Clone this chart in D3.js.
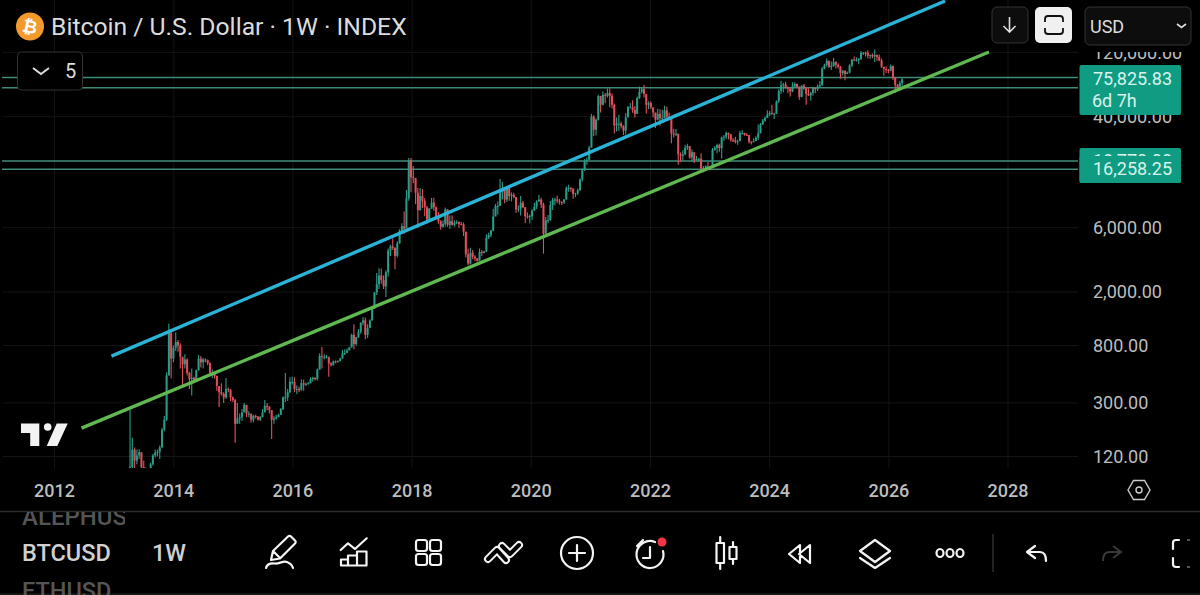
<!DOCTYPE html>
<html><head><meta charset="utf-8">
<script src="https://cdn.jsdelivr.net/npm/d3@7/dist/d3.min.js"></script>
<style>html,body{margin:0;padding:0;background:#000;overflow:hidden}svg{display:block}text{font-family:Roboto,sans-serif}</style>
</head><body><svg id="c" width="1200" height="595"></svg>
<script>
const firstOpen = 93;
const firstCandle = "2013-04-01";
const closes = [
100,135,112,122,129,100,90,92,95,105,122,128,130,
140,190,225,480,1000,640,770,850,800,660,580,630,500,
450,460,440,525,640,600,630,620,590,500,500,475,400,
360,350,330,380,375,330,315,210,230,235,255,290,250,
250,225,240,237,225,235,255,285,280,265,225,230,235,
245,270,330,330,360,430,430,380,380,375,420,410,415,
420,450,460,450,530,670,660,660,660,590,575,610,605,
615,640,700,705,735,775,960,820,920,1010,1180,1230,960,
1080,1230,1500,1980,2280,2650,2450,2200,2800,4050,4350,4250,3700,
4600,5700,6150,5900,9900,19000,14200,14000,10900,8100,10300,9500,8500,
6900,8300,9200,8500,7300,6700,6100,6400,8200,6300,6700,6300,6500,
6600,6400,6350,5600,3800,3250,3900,3650,3550,3400,3950,3900,4000,
5050,5300,5700,7250,8700,8700,11000,11800,9700,11800,10300,10500,10100,
8200,8300,9200,8500,7300,7200,7300,8000,8600,9350,9700,8900,5400,
6800,6850,8800,9700,9700,9500,9300,9250,9700,11800,11800,11700,10700,
10800,11400,13700,16300,18700,19150,23500,40000,32000,38000,57000,49000,58000,
57000,60000,57000,49000,34500,35500,35500,34000,31500,39500,47000,47000,45000,
42000,55000,61000,64000,59000,49000,50500,47000,43000,38000,42000,39000,39000,
44500,40000,39500,30000,29500,29900,21000,20500,21000,23400,24100,19900,21800,
19000,19400,19500,16500,16400,17100,16800,16800,22700,23400,24600,23400,28000,
28400,30300,29500,26900,26700,25900,26300,30300,30300,29300,29200,26100,25800,
26300,27900,30000,35000,37400,39000,41400,42600,41700,42000,52100,62000,68500,
69500,65700,64500,61500,67000,70000,66700,56000,68000,65000,59000,57500,60000,
65600,64000,67000,68500,91000,97000,104000,94000,95000,102000,97000,94000,84000,
87500,83000,85000,96000,106000,105500,105500,108000,119000,119500,119000,113500,115000,
112000,115000,111000,104500,94000,90500,89000,87500,95000,78000,68800,65000,71000,
75825.83];
const highs = [
266,165,140,135,136,129,112,100,98,108,125,135,135,
145,195,240,505,1163,1000,800,1000,880,830,640,690,640,
510,540,470,530,680,670,650,640,630,600,530,500,480,
400,420,360,460,390,380,335,320,300,250,270,300,290,
260,240,245,245,240,240,270,315,300,285,265,240,245,
250,275,335,500,380,465,470,465,405,395,450,445,425,
430,465,470,465,540,700,780,690,680,630,600,620,620,
620,650,740,750,760,785,980,1150,930,1060,1190,1300,1290,
1150,1250,1560,2000,2760,3000,2980,2650,2900,4200,4480,5000,4300,
4750,5850,6470,7900,11400,19700,19700,17200,14000,11800,11800,11600,9900,
8700,8400,9950,10000,8600,7800,6800,6800,8450,8200,7400,7400,6800,
6800,6700,6600,6550,5600,4200,4250,4100,3750,3550,4200,4100,4050,
5350,5500,5800,8300,9000,9400,13800,13100,11100,12300,12300,10950,10900,
10100,8800,10300,9500,8500,7800,7500,8200,9200,9600,10500,10000,9200,
7200,7450,9450,10000,10000,10400,9800,9400,9800,12100,12500,12050,11700,
10900,11700,13900,16500,19400,19900,24300,42000,41000,38800,58300,57000,61700,
60000,64800,64800,59500,50000,39400,41300,36600,34500,42600,48000,50500,52900,
48000,56500,67000,66000,69000,59000,52000,52000,44500,39000,45800,45400,45000,
48200,47500,43000,40000,32600,32400,29500,21700,22500,24700,25200,24300,22800,
20200,20400,19700,21400,17200,17400,18400,17000,23400,24200,25200,25200,28500,
29200,31000,30500,29800,27700,28400,27000,31400,31800,30300,30200,28000,26300,
27500,28600,35000,35900,38400,40200,44700,44000,49000,42900,52800,64000,73800,
71500,72700,67000,65000,71900,71900,70200,67000,68500,70000,65000,65000,61300,
66500,65600,69500,73600,93500,99000,108000,104000,102700,109500,102500,99500,95000,
89000,88500,86500,97800,107000,112000,110500,108800,123000,121000,122000,124500,116000,
118000,126000,116000,116000,107500,93500,94500,90500,97500,96000,79000,70000,74000,
77000];
const lows = [
60,70,85,105,115,95,85,65,85,92,103,118,120,
115,140,185,220,480,455,600,730,720,540,400,540,480,
380,340,420,430,520,550,540,600,570,490,460,455,370,
280,340,300,320,360,310,305,152,210,210,220,260,235,
235,215,215,230,222,220,235,260,265,250,162,210,225,
235,245,265,305,310,355,410,360,350,360,370,370,400,
410,420,430,440,440,530,540,630,640,470,560,565,590,
595,610,640,680,720,745,775,750,800,910,980,1130,890,
910,1120,1220,1500,1900,2100,2300,2100,1830,2600,3700,4100,2950,
3600,4550,5400,5400,7800,9500,11000,12800,9000,6000,8000,8400,7300,
6400,6600,8300,8000,7050,6400,5800,6000,6100,6100,5900,6200,6100,
6350,6000,6250,5200,3600,3150,3200,3500,3400,3350,3550,3700,3850,
3950,4950,5100,5650,7500,7500,8900,9700,9100,9300,9500,9400,9900,
7700,7850,7400,8400,6500,7000,6450,6850,8000,8250,9500,8400,3850,
5700,6500,6750,8100,8800,9100,8900,8850,9000,9700,11100,11100,9850,
10100,10500,11250,13200,15800,17600,19000,26500,28800,29000,37500,43000,48500,
50400,55500,47000,46000,30000,31000,31500,32700,29300,29500,42800,46500,42800,
39500,42000,54000,59500,55600,42000,45500,45700,39600,32900,37500,34300,37500,
40500,39000,38200,25400,28000,28800,17600,18600,18900,20700,22600,19500,18500,
18100,18900,18600,15600,15500,16000,16300,16300,17300,22300,21400,22000,19600,
26500,27200,27100,26000,25900,25300,24800,26400,29500,28900,28700,25300,24900,
26000,26500,26800,33400,34800,36700,40500,40500,41500,38500,42200,50600,59000,
60800,64500,59600,56500,60700,66500,65000,53500,55700,63500,49000,57000,52500,
57500,59800,62000,66800,68000,90000,94000,92000,89000,94000,91000,91200,76600,
81000,74500,83000,83900,93500,103000,102500,98200,105500,114700,112000,108700,107300,
108600,102000,103500,103000,92000,80600,84500,84000,87000,75000,60000,62500,64000,
68000];
const yearTicks = [2012,2014,2016,2018,2020,2022,2024,2026,2028];
const priceTicks = [120,300,800,2000,6000,40000,120000];
const priceTickLabels = ["120.00","300.00","800.00","2,000.00","6,000.00","40,000.00","120,000.00"];
const levelLines = [78000,65500,18770,16258.25];
const blueYears = [2012.956,2026.943], bluePrices = [668,288800];
const greenYears = [2012.453,2027.68], greenPrices = [195,120800];

const svg = d3.select("#c");
const defs = svg.append("defs");
const clipR = (id,x,y,w,h)=>defs.append("clipPath").attr("id",id).append("rect").attr("x",x).attr("y",y).attr("width",w).attr("height",h);
clipR("plot",0,0,1078,468);
clipR("ax",1080,52,120,460);
clipR("ale",0,512,125,30);
defs.append("filter").attr("id","soft").attr("x","-2%").attr("y","-2%").attr("width","104%").attr("height","104%").append("feGaussianBlur").attr("stdDeviation",0.4);

const x = d3.scaleUtc().domain([new Date(Date.UTC(2012,0,1)),new Date(Date.UTC(2028,0,1))]).range([54.5,1008]);
const y = d3.scaleLog().domain([120,120000]).range([456.5,52.4]);
const yd = v=>{const f=Math.floor(v);return new Date(Date.UTC(f,0,1)+(v-f)*365.25*864e5)};

// grid
const grid = svg.append("g").attr("stroke","#141414").attr("stroke-width",1);
grid.selectAll("line.v").data(yearTicks).join("line").attr("x1",d=>x(new Date(Date.UTC(d,0,1)))).attr("x2",d=>x(new Date(Date.UTC(d,0,1)))).attr("y1",0).attr("y2",468);
grid.selectAll("line.h").data(priceTicks.concat([18770])).join("line").attr("x1",3).attr("x2",1078).attr("y1",d=>y(d)).attr("y2",d=>y(d));

const plot = svg.append("g").attr("clip-path","url(#plot)");
// level lines
plot.selectAll("line.lvl").data(levelLines).join("line").attr("x1",2).attr("x2",1078).attr("y1",d=>y(d)).attr("y2",d=>y(d)).attr("stroke","#3f8a78").attr("stroke-width",1.5);

// candles
const start = new Date(firstCandle+"T00:00:00Z");
const candles = closes.map((c,i)=>({t:d3.utcDay.offset(start,i*14+7),o:i?closes[i-1]:firstOpen,c,h:highs[i],l:lows[i]}));
const UP="#2a9d88",DN="#e2505c";
const cg = plot.append("g").attr("filter","url(#soft)");
cg.selectAll("line").data(candles).join("line").attr("x1",d=>x(d.t)).attr("x2",d=>x(d.t)).attr("y1",d=>y(d.h)).attr("y2",d=>y(d.l)).attr("stroke",d=>d.c>=d.o?UP:DN).attr("stroke-width",1.1);
cg.selectAll("rect").data(candles).join("rect").attr("x",d=>x(d.t)-1).attr("width",2).attr("y",d=>y(Math.max(d.o,d.c))).attr("height",d=>Math.max(1,Math.abs(y(d.o)-y(d.c)))).attr("fill",d=>d.c>=d.o?UP:DN);

// trend lines
const trend = d3.line().x(d=>x(yd(d[0]))).y(d=>y(d[1]));
plot.append("path").attr("d",trend(d3.zip(greenYears,greenPrices))).attr("stroke","#5fb850").attr("stroke-width",3.4).attr("fill","none");
plot.append("path").attr("d",trend(d3.zip(blueYears,bluePrices))).attr("stroke","#2ab3d6").attr("stroke-width",3.4).attr("fill","none");

// price axis labels
svg.append("g").attr("clip-path","url(#ax)").selectAll("text").data(priceTicks).join("text")
  .attr("x",1093).attr("y",d=>y(d)+6.3).attr("font-size",18).attr("fill","#bdbdbd").text((d,i)=>priceTickLabels[i]);

// last price labels
const BOX="#0f9c83", TXT="#d8f3ec";
svg.append("rect").attr("x",1079.5).attr("y",65).attr("width",101.5).attr("height",50).attr("rx",2).attr("fill",BOX);
svg.append("text").attr("x",1093).attr("y",85).attr("font-size",18).attr("fill",TXT).text("75,825.83");
svg.append("text").attr("x",1092).attr("y",107).attr("font-size",18).attr("fill",TXT).text("6d 7h");
svg.append("rect").attr("x",1079.5).attr("y",148).attr("width",101.5).attr("height",35).attr("rx",2).attr("fill",BOX);
svg.append("text").attr("x",1093).attr("y",167).attr("font-size",18).attr("fill",TXT).text("18,770.00");
svg.append("rect").attr("x",1079.5).attr("y",156).attr("width",101.5).attr("height",27).attr("rx",2).attr("fill",BOX);
svg.append("text").attr("x",1093).attr("y",174.5).attr("font-size",18).attr("fill",TXT).text("16,258.25");

// x axis
svg.append("g").selectAll("text").data(yearTicks).join("text").attr("x",d=>x(new Date(Date.UTC(d,0,1)))).attr("y",496.5).attr("text-anchor","middle")
  .attr("font-size",18).attr("font-weight",500).attr("fill","#bdbdbd").text(d=>d);

// header
svg.append("circle").attr("cx",30).attr("cy",26.5).attr("r",14).attr("fill","#f39a2c");
svg.append("text").attr("x",30).attr("y",33).attr("text-anchor","middle").attr("font-size",18).attr("font-weight",700).attr("fill","#fff").attr("transform","rotate(12 30 26.5)").text("₿");
svg.append("text").attr("x",51).attr("y",34.5).attr("font-size",24.7).attr("fill","#dcdcdc").text("Bitcoin / U.S. Dollar · 1W · INDEX");

// collapse box
svg.append("rect").attr("x",17.5).attr("y",52).attr("width",65).attr("height",38).attr("rx",4).attr("fill","#000").attr("stroke","#333");
svg.append("path").attr("d","M33 68l8 6 8-6").attr("fill","none").attr("stroke","#ddd").attr("stroke-width",2);
svg.append("text").attr("x",65).attr("y",78).attr("font-size",20).attr("fill","#ddd").text("5");

// top buttons
const btn=(x0,y0,w,h,fill,stroke)=>svg.append("rect").attr("x",x0).attr("y",y0).attr("width",w).attr("height",h).attr("rx",5).attr("fill",fill).attr("stroke",stroke);
btn(992,7,36,36,"#0d0d0d","#333");
svg.append("path").attr("d","M1009.5 17v15M1003.5 26l6 6 6-6").attr("fill","none").attr("stroke","#ddd").attr("stroke-width",1.6);
btn(1035,7,37,36,"#f0f0f0","none");
svg.append("path").attr("d","M1045 22v-3a3 3 0 0 1 3-3h12a3 3 0 0 1 3 3v3M1045 28v3a3 3 0 0 0 3 3h12a3 3 0 0 0 3-3v-3").attr("fill","none").attr("stroke","#111").attr("stroke-width",1.8);
btn(1085,7,106,38,"#0d0d0d","#333");
svg.append("text").attr("x",1090).attr("y",33).attr("font-size",18).attr("fill","#ddd").text("USD");
svg.append("path").attr("d","M1177 24l4.500 3.500 4.500-3.500").attr("fill","none").attr("stroke","#ddd").attr("stroke-width",1.6);

// TV logo
svg.append("path").attr("fill","#f2f2f2").attr("d","M21 423.500H39.300V446H30.200V433H21ZM56.700 423.500H67.700L57.300 446H46.700Z");
svg.append("circle").attr("cx",47.7).attr("cy",427).attr("r",3.8).attr("fill","#f2f2f2");

// settings hexagon
svg.append("path").attr("d","M1128 490l5.500-9.500h11l5.500 9.500-5.500 9.500h-11Z").attr("fill","none").attr("stroke","#ccc").attr("stroke-width",1.4);
svg.append("circle").attr("cx",1139).attr("cy",490).attr("r",3).attr("fill","none").attr("stroke","#ccc").attr("stroke-width",1.4);

// bottom bar
svg.append("line").attr("x1",0).attr("x2",1200).attr("y1",511.5).attr("y2",511.5).attr("stroke","#2a2a2a").attr("stroke-width",1.5);
svg.append("line").attr("x1",0).attr("x2",1200).attr("y1",594).attr("y2",594).attr("stroke","#1c1c1c").attr("stroke-width",1.5);
svg.append("g").attr("clip-path","url(#ale)").append("text").attr("x",22).attr("y",525).attr("font-size",24).attr("font-weight",500).attr("fill","#555").text("ALEPHUSD");
svg.append("text").attr("x",22).attr("y",561).attr("font-size",23.5).attr("font-weight",500).attr("fill","#d0d0d0").text("BTCUSD");
svg.append("text").attr("x",152).attr("y",561).attr("font-size",23.5).attr("font-weight",500).attr("fill","#d0d0d0").text("1W");
svg.append("text").attr("x",22).attr("y",599).attr("font-size",23.5).attr("font-weight",500).attr("fill","#555").text("ETHUSD");

const ic = svg.append("g").attr("fill","none").attr("stroke","#f4f4f4").attr("stroke-width",2.2).attr("stroke-linecap","round").attr("stroke-linejoin","round");
// pencil
ic.append("path").attr("d","M271 560l2-9 15-14.500a2 2 0 0 1 3 0l4 4a2 2 0 0 1 0 3l-15 15ZM273 551l7 7M266 568c1-4 5-5 9-4.500s8-3 12-1.500 5 3 6 6");
// chart
ic.append("path").attr("d","M340.700 550l7.300-6.700 7 5.700 11.700-10.700M341 565.500v-6h7v6M348 565.500v-10h9v10M357 565.500v-14h9.500v14ZM341 565.500h25");
// grid
[[416,540],[430,540],[416,554],[430,554]].forEach(p=>ic.append("rect").attr("x",p[0]).attr("y",p[1]).attr("width",11).attr("height",11).attr("rx",2.5));
// lines
const zig=["M488 559l9-9 9 10","M502 546l8 8 9-9"];
zig.forEach(d=>{ic.append("path").attr("d",d).attr("stroke-width",8);ic.append("path").attr("d",d).attr("stroke","#000").attr("stroke-width",4);});
// plus
ic.append("circle").attr("cx",577).attr("cy",553).attr("r",16);
ic.append("path").attr("d","M569 553h16M577 545v16");
// alarm
ic.append("path").attr("d","M655 542a13.500 13.500 0 1 0 8 9M643 540l-6 6M650 547v11h-7");
svg.append("circle").attr("cx",662).attr("cy",542).attr("r",4.5).attr("fill","#f23645");
// candles
ic.append("path").attr("d","M716.500 543h7.500v20h-7.500ZM720.200 537v6M720.200 563v6M729.500 547h7v12h-7ZM733 542v5M733 559v5");
// rewind
ic.append("path").attr("d","M800 545l-11 9 11 9ZM810 545l-11 9 11 9Z");
// layers
ic.append("path").attr("d","M875 540l15 11-15 11-15-11ZM860 558l15 10 15-10");
// dots
[940,950,960].forEach(cx=>ic.append("ellipse").attr("cx",cx).attr("cy",553).attr("rx",3.5).attr("ry",4));
// separator
svg.append("line").attr("x1",993).attr("x2",993).attr("y1",534).attr("y2",572).attr("stroke","#2e2e2e").attr("stroke-width",1.5);
// undo
ic.append("path").attr("d","M1035 546l-8 6 8 6M1027 552h13c4 0 6 3 6 9");
// redo
svg.append("path").attr("d","M1113 546l8 6-8 6M1121 552h-12c-4 0-6 3-6 9").attr("fill","none").attr("stroke","#3a3a3a").attr("stroke-width",2);
// fullscreen
ic.append("path").attr("d","M1179 540h-3a3 3 0 0 0-3 3v6M1179 567h-3a3 3 0 0 1-3-3v-6");
svg.append("path").attr("d","M1187 540h3M1187 567h3").attr("stroke","#555").attr("stroke-width",2);
</script></body></html>
